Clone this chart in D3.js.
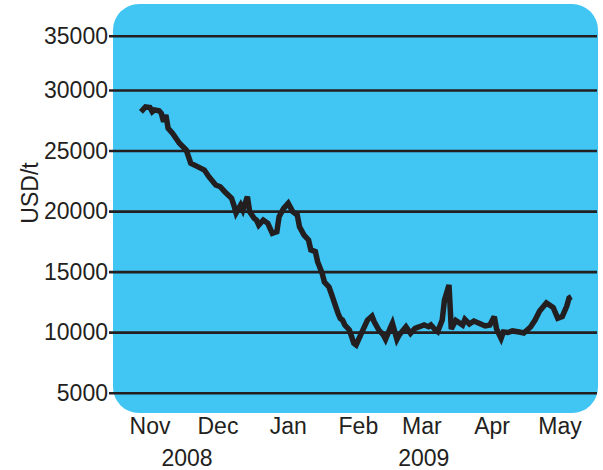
<!DOCTYPE html>
<html>
<head>
<meta charset="utf-8">
<script src="https://cdn.jsdelivr.net/npm/d3@7"></script>
<style>
  html, body { margin: 0; padding: 0; background: #ffffff; }
  svg text { font-family: "Liberation Sans", Arial, Helvetica, sans-serif; fill: #231f20; }
</style>
</head>
<body>
<svg id="chart" width="603" height="470"></svg>
<script>
// Daily price, USD per tonne
const dates = [
  "2008-10-28","2008-10-30","2008-11-01","2008-11-02","2008-11-03","2008-11-05","2008-11-06","2008-11-07",
  "2008-11-08","2008-11-09","2008-11-11","2008-11-14","2008-11-17","2008-11-18","2008-11-19","2008-11-22",
  "2008-11-25","2008-11-27","2008-11-30","2008-12-02","2008-12-04","2008-12-07","2008-12-08","2008-12-09",
  "2008-12-11","2008-12-12","2008-12-14","2008-12-15","2008-12-17","2008-12-18","2008-12-19","2008-12-21",
  "2008-12-23","2008-12-25","2008-12-27","2008-12-28","2008-12-30","2009-01-01","2009-01-03","2009-01-05",
  "2009-01-06","2009-01-08","2009-01-10","2009-01-11","2009-01-13","2009-01-14","2009-01-16","2009-01-17",
  "2009-01-19","2009-01-20","2009-01-21","2009-01-22","2009-01-23","2009-01-24","2009-01-25","2009-01-26",
  "2009-01-28","2009-01-30","2009-01-31","2009-02-02","2009-02-05","2009-02-07","2009-02-08","2009-02-10",
  "2009-02-12","2009-02-13","2009-02-15","2009-02-16","2009-02-18","2009-02-19","2009-02-22","2009-02-23",
  "2009-02-24","2009-02-26","2009-02-28","2009-03-02","2009-03-04","2009-03-05","2009-03-07","2009-03-08",
  "2009-03-10","2009-03-11","2009-03-13","2009-03-14","2009-03-16","2009-03-19","2009-03-20","2009-03-22",
  "2009-03-24","2009-03-27","2009-03-29","2009-03-31","2009-04-02","2009-04-03","2009-04-05","2009-04-06",
  "2009-04-08","2009-04-10","2009-04-13","2009-04-15","2009-04-18","2009-04-20","2009-04-22","2009-04-25",
  "2009-04-28","2009-04-30","2009-05-02","2009-05-04","2009-05-05","2009-05-06"
];
const prices = [
  28200, 28600, 28550, 28200, 28350, 28290, 28080, 27380,
  27935, 26840, 26420, 25600, 25040, 24490, 23950, 23670,
  23390, 22840, 22150, 22010, 21600, 21060, 20500, 19840,
  20500, 20090, 21190, 19950, 19400, 19260, 18850, 19260,
  18990, 18160, 18300, 19540, 20230, 20640, 19950, 19680,
  18710, 18020, 17610, 16790, 16650, 15820, 14860, 14140,
  13730, 13210, 12660, 12100, 11560, 11140, 11000, 10590,
  10180, 9080, 8940, 9770, 11000, 11330, 10860, 10180,
  9770, 9410, 10320, 10730, 9410, 9770, 10450, 10180,
  9910, 10320, 10450, 10590, 10450, 10590, 10180, 10040,
  11000, 12660, 13900, 10260, 10960, 10590, 11050, 10670,
  10920, 10670, 10510, 10590, 11280, 10260, 9490, 10010,
  9970, 10100, 10010, 9930, 10430, 11000, 11750, 12410,
  12040, 11140, 11280, 12160, 12820, 12930
];

// Axis labels
const months = [
  ["2008-11-01", "Nov"], ["2008-12-01", "Dec"], ["2009-01-01", "Jan"],
  ["2009-02-01", "Feb"], ["2009-03-01", "Mar"], ["2009-04-01", "Apr"], ["2009-05-01", "May"]
];
const years = ["2008", "2009"];
const yTicks = [5000, 10000, 15000, 20000, 25000, 30000, 35000];
const yTitle = "USD/t";

const parse = d3.timeParse("%Y-%m-%d");
const series = dates.map((d, i) => ({ date: parse(d), value: prices[i] }));

const svg = d3.select("#chart");
const ink = "#231f20";

// plot panel
const panel = { x0: 113, x1: 598, y0: 4, y1: 413 };

const x = d3.scaleTime()
  .domain([parse("2008-11-01"), parse("2009-05-01")])
  .range([150, 560]);

const y = d3.scaleLinear()
  .domain([5000, 30000, 35000])
  .range([392.7, 90, 35.7]);

svg.append("rect")
  .attr("x", panel.x0).attr("y", panel.y0)
  .attr("width", panel.x1 - panel.x0).attr("height", panel.y1 - panel.y0)
  .attr("rx", 26).attr("ry", 26)
  .attr("fill", "#41c5f3");

// horizontal gridlines with value labels
const gridLeft = 109, gridRight = 597;
const yAxis = svg.append("g")
  .attr("transform", `translate(${gridLeft},0)`)
  .call(d3.axisLeft(y).tickValues(yTicks).tickFormat(d3.format("d"))
    .tickSize(-(gridRight - gridLeft)).tickPadding(1));
yAxis.select(".domain").remove();
yAxis.selectAll(".tick line").attr("stroke", ink).attr("stroke-width", 2.6);
yAxis.selectAll(".tick text")
  .attr("font-size", 23).attr("dy", "0.34em").style("fill", ink);

svg.append("text")
  .attr("transform", "translate(38,193) rotate(-90)")
  .attr("text-anchor", "middle")
  .attr("font-size", 23)
  .text(yTitle);

// month labels
svg.append("g").selectAll("text")
  .data(months)
  .join("text")
  .attr("x", d => x(parse(d[0])))
  .attr("y", 434)
  .attr("text-anchor", "middle")
  .attr("font-size", 23)
  .text(d => d[1]);

// year labels
const yearPos = [
  (x(parse("2008-11-01")) + x(parse("2008-12-01"))) / 2 + 3,
  x(parse("2009-03-01")) + 2
];
svg.append("g").selectAll("text")
  .data(years)
  .join("text")
  .attr("x", (d, i) => yearPos[i])
  .attr("y", 466)
  .attr("text-anchor", "middle")
  .attr("font-size", 23)
  .text(d => d);

// price line
const line = d3.line()
  .x(d => x(d.date))
  .y(d => y(d.value));

svg.append("path")
  .datum(series)
  .attr("d", line)
  .attr("fill", "none")
  .attr("stroke", ink)
  .attr("stroke-width", 5.5)
  .attr("stroke-linejoin", "miter")
  .attr("stroke-miterlimit", 3)
  .attr("stroke-linecap", "butt");
</script>
</body>
</html>
